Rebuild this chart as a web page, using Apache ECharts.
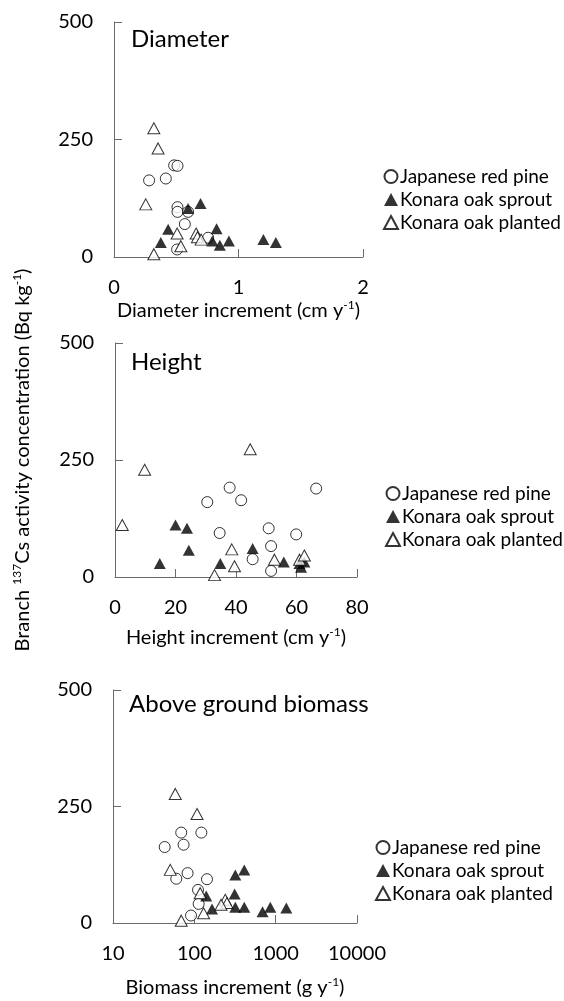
<!DOCTYPE html>
<html>
<head>
<meta charset="utf-8">
<script src="https://cdn.jsdelivr.net/npm/echarts@6/dist/echarts.min.js"></script>
<style>
  html, body { margin: 0; padding: 0; background: #fff; }
  #chart { width: 564px; height: 1001px; }
</style>
</head>
<body>
<div id="chart"></div>
<script>
// 137Cs in branches vs. growth increment, three panels
const seriesNames = ['Japanese red pine', 'Konara oak sprout', 'Konara oak planted'];
const panelTitles = ['Diameter', 'Height', 'Above ground biomass'];
const yTicks = [0, 250, 500];

// diameter increment (cm y-1), Bq kg-1
const diamPine = [[0.483, 195], [0.51, 194], [0.282, 163], [0.416, 167], [0.51, 106], [0.51, 96], [0.595, 96], [0.569, 70], [0.756, 41], [0.507, 16]];
const diamSprout = [[0.595, 103], [0.695, 114], [0.435, 59], [0.376, 31], [0.824, 60], [0.79, 34], [0.85, 25], [0.923, 34], [1.2, 37], [1.3, 31]];
const diamPlanted = [[0.32, 274], [0.354, 231], [0.255, 112], [0.32, 6], [0.507, 50], [0.537, 23], [0.66, 50], [0.67, 42], [0.7, 37]];

// height increment (cm y-1)
const heightPine = [[37.9, 191], [66.5, 189], [30.5, 160], [41.7, 164], [34.6, 94], [50.8, 104], [59.9, 91], [51.6, 66], [45.5, 38], [51.6, 13]];
const heightSprout = [[20, 111], [23.8, 104], [24.4, 57], [14.8, 29], [34.8, 29], [45.5, 61], [55.8, 32], [61, 29], [61.5, 21], [62.6, 32]];
const heightPlanted = [[44.7, 273], [9.8, 229], [2.4, 111], [38.6, 59], [39.5, 23], [32.9, 4], [52.7, 37], [61, 37], [62.6, 46]];

// biomass increment (g y-1), log axis
const bioPine = [[69, 194], [122, 194], [43.2, 163], [73.8, 168], [82.6, 107], [60, 95], [143, 94], [111, 71], [113, 41], [91, 16]];
const bioSprout = [[319, 103], [411, 114], [140, 58], [313, 62], [165, 30], [319, 34], [411, 34], [690, 24], [859, 34], [1352, 32]];
const bioPlanted = [[58.3, 277], [108, 234], [50.6, 114], [118, 64], [240, 50], [252, 43], [213, 39], [130, 21], [69, 5]];

const FONT = 'Lato';
const AXIS_COLOR = '#6b6b6b';

const grids = [
  { left: 114, top: 22, width: 249, height: 235 },
  { left: 115, top: 343, width: 242, height: 234 },
  { left: 113, top: 690, width: 244, height: 233 },
];

const supRich = {
  a: { fontSize: 20, fontFamily: FONT, color: '#000', lineHeight: 24 },
  s: { fontSize: 12, fontFamily: FONT, color: '#000', verticalAlign: 'top', lineHeight: 24 },
};

function xAxisBase(i) {
  return {
    gridIndex: i,
    nameLocation: 'middle',
    nameTextStyle: { rich: supRich },
    axisLine: { lineStyle: { color: AXIS_COLOR, width: 1 } },
    axisTick: { inside: true, length: 8, lineStyle: { color: AXIS_COLOR } },
    axisLabel: { color: '#000', fontFamily: FONT, fontSize: 20, margin: 21 },
    splitLine: { show: false },
  };
}

const xAxes = [
  Object.assign(xAxisBase(0), {
    type: 'value', min: 0, max: 2, interval: 1, nameGap: 42,
    name: '{a|Diameter increment (cm y}{s|-1}{a|)}',
  }),
  Object.assign(xAxisBase(1), {
    type: 'value', min: 0, max: 80, interval: 20, nameGap: 49,
    name: '{a|Height increment (cm y}{s|-1}{a|)}',
  }),
  Object.assign(xAxisBase(2), {
    type: 'log', logBase: 10, min: 10, max: 10000, nameGap: 53,
    name: '{a|Biomass increment (g y}{s|-1}{a|)}',
  }),
];
xAxes[2].axisLabel.formatter = v => String(Math.round(v));

const yAxes = grids.map((g, i) => ({
  gridIndex: i,
  type: 'value',
  min: yTicks[0],
  max: yTicks[yTicks.length - 1],
  interval: yTicks[1] - yTicks[0],
  axisLine: { show: true, lineStyle: { color: AXIS_COLOR, width: 1 } },
  axisTick: { show: true, inside: true, length: 8, lineStyle: { color: AXIS_COLOR } },
  axisLabel: { color: '#000', fontFamily: FONT, fontSize: 20, margin: 21 },
  splitLine: { show: false },
}));
// shared y title sits on the middle panel
Object.assign(yAxes[1], {
  name: '{a|Branch }{s|137}{a|Cs activity concentration (Bq kg}{s|-1}{a|)}',
  nameLocation: 'middle',
  nameGap: 80,
  nameRotate: 90,
  nameTextStyle: { rich: supRich },
});

const styles = [
  { symbol: 'circle', symbolSize: 11, itemStyle: { color: '#fff', borderColor: '#000', borderWidth: 1 } },
  { symbol: 'triangle', symbolSize: [12, 11], itemStyle: { color: '#000', borderColor: '#000', borderWidth: 0 } },
  { symbol: 'triangle', symbolSize: [12, 11], itemStyle: { color: '#fff', borderColor: '#000', borderWidth: 1 } },
];

const panelData = [
  [diamPine, diamSprout, diamPlanted],
  [heightPine, heightSprout, heightPlanted],
  [bioPine, bioSprout, bioPlanted],
];

const series = [];
panelData.forEach((sets, p) => {
  sets.forEach((d, k) => {
    series.push(Object.assign({
      type: 'scatter',
      name: seriesNames[k],
      xAxisIndex: p,
      yAxisIndex: p,
      data: d,
      clip: false,
      emphasis: { disabled: true },
    }, styles[k]));
  });
});

const legendPos = [
  { left: 383, top: 166 },
  { left: 385, top: 483 },
  { left: 375, top: 837 },
];

const legends = legendPos.map(pos => ({
  orient: 'vertical',
  left: pos.left,
  top: pos.top,
  data: seriesNames,
  itemWidth: 14,
  itemHeight: 13,
  itemGap: 2,
  padding: 0,
  selectedMode: false,
  textStyle: { color: '#000', fontFamily: FONT, fontSize: 19, lineHeight: 21, padding: [0, 0, 0, -3] },
}));

const titlePos = [
  { left: 131, top: 27 },
  { left: 131, top: 350 },
  { left: 129, top: 692 },
];

const titles = panelTitles.map((t, i) => ({
  text: t,
  left: titlePos[i].left,
  top: titlePos[i].top,
  padding: 0,
  textStyle: { color: '#000', fontFamily: FONT, fontSize: 24, fontWeight: 'normal' },
}));

const chart = echarts.init(document.getElementById('chart'));
chart.setOption({
  animation: false,
  backgroundColor: '#fff',
  title: titles,
  legend: legends,
  grid: grids,
  xAxis: xAxes,
  yAxis: yAxes,
  series: series,
});
</script>
</body>
</html>
